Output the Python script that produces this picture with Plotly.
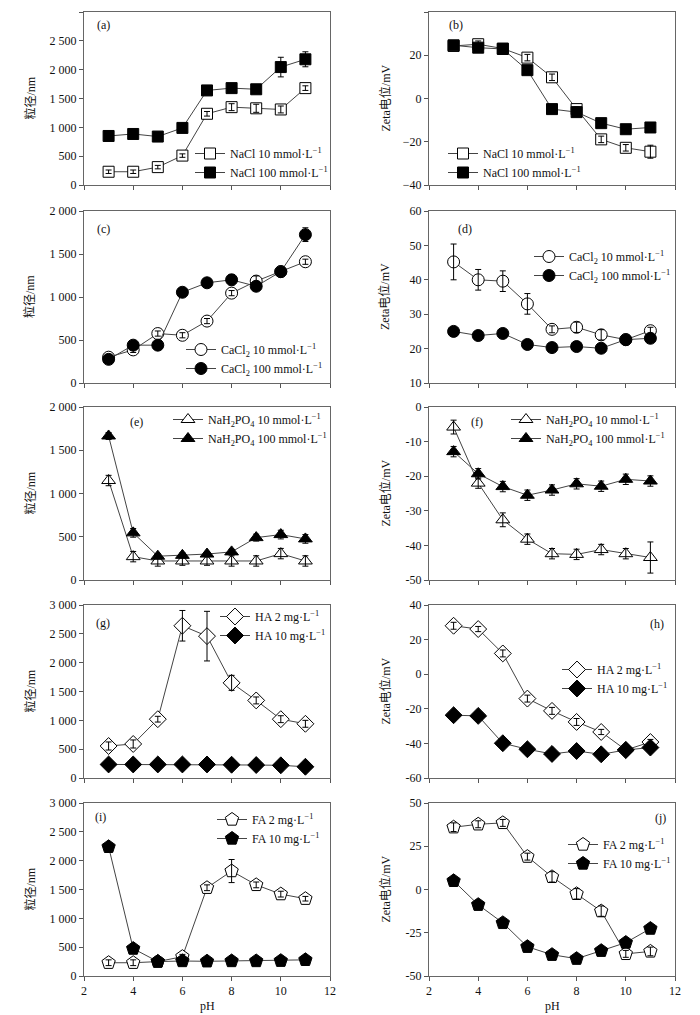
import plotly.graph_objects as go

ph = [3, 4, 5, 6, 7, 8, 9, 10, 11]

# (a) particle size, NaCl
a_lo = [230, 230, 310, 510, 1235, 1350, 1330, 1310, 1680]
a_lo_err = [30, 30, 30, 30, 40, 60, 70, 60, 40]
a_hi = [850, 885, 840, 990, 1640, 1680, 1660, 2045, 2180]
a_hi_err = [30, 30, 30, 40, 60, 40, 40, 170, 130]
# (b) zeta, NaCl
b_lo = [24.3, 25.1, 23.1, 18.9, 9.8, -4.9, -18.9, -22.8, -24.6]
b_lo_err = [1.5, 1.5, 1, 1.5, 1.5, 1, 1.5, 1.5, 3]
b_hi = [24.6, 23.5, 22.9, 13.1, -4.9, -6.3, -11.4, -14.2, -13.4]
b_hi_err = [1, 1, 1, 1, 1, 1, 1, 1, 1]
# (c) particle size, CaCl2
c_lo = [300, 385, 575, 555, 720, 1045, 1185, 1295, 1410]
c_lo_err = [30, 30, 30, 30, 30, 30, 60, 30, 30]
c_hi = [275, 440, 440, 1055, 1165, 1200, 1125, 1295, 1725]
c_hi_err = [20, 30, 30, 30, 40, 60, 40, 30, 80]
# (d) zeta, CaCl2
d_lo = [45.2, 40.0, 39.6, 33.0, 25.6, 26.2, 24.0, 22.6, 25.2]
d_lo_err = [5.2, 3, 3, 3, 1, 1.5, 1.5, 0.5, 1]
d_hi = [25.0, 23.8, 24.4, 21.2, 20.3, 20.6, 20.1, 22.6, 23.0]
d_hi_err = [0.5, 0.5, 0.5, 0.5, 0.5, 0.5, 0.5, 0.5, 0.5]
# (e) particle size, NaH2PO4
e_lo = [1150, 270, 220, 220, 220, 220, 220, 305, 220]
e_lo_err = [60, 60, 60, 50, 50, 60, 60, 60, 60]
e_hi = [1665, 545, 275, 285, 300, 325, 490, 525, 475]
e_hi_err = [40, 50, 30, 30, 30, 30, 40, 50, 50]
# (f) zeta, NaH2PO4
f_lo = [-5.8, -22.0, -32.6, -38.2, -42.4, -42.6, -41.2, -42.4, -43.5]
f_lo_err = [2, 1.5, 2, 1.5, 1.5, 1.5, 1.5, 1.5, 4.5]
f_hi = [-12.9, -19.3, -23.0, -25.5, -24.0, -22.2, -22.9, -20.9, -21.4]
f_hi_err = [1.5, 1.5, 1.5, 1.5, 1.5, 1.5, 1.5, 1.5, 1.5]
# (g) particle size, HA
g_lo = [555, 590, 1020, 2640, 2460, 1650, 1345, 1020, 940]
g_lo_err = [70, 70, 50, 265, 430, 130, 60, 60, 60]
g_hi = [235, 235, 235, 235, 235, 230, 225, 220, 195]
g_hi_err = [15, 15, 15, 15, 15, 15, 15, 15, 15]
# (h) zeta, HA
h_lo = [28.0, 26.1, 12.0, -14.1, -21.2, -27.6, -33.4, -43.8, -39.2]
h_lo_err = [2, 1.5, 2, 2, 2, 2, 1.5, 1.5, 1.5]
h_hi = [-23.7, -24.1, -39.9, -43.4, -46.1, -44.4, -46.3, -43.8, -42.4]
h_hi_err = [1, 1, 1, 1, 1, 1, 1, 1, 1]
# (i) particle size, FA
i_lo = [230, 230, 250, 335, 1530, 1820, 1580, 1420, 1340]
i_lo_err = [50, 50, 30, 40, 50, 200, 50, 50, 40]
i_hi = [2240, 475, 250, 260, 255, 260, 260, 265, 280]
i_hi_err = [20, 20, 20, 20, 20, 20, 20, 20, 20]
# (j) zeta, FA
j_lo = [36.0, 37.7, 38.5, 19.0, 7.3, -2.5, -12.5, -37.2, -35.8]
j_lo_err = [2.5, 2, 2, 2, 3, 3, 3, 2, 2.5]
j_hi = [5.0, -8.8, -19.3, -33.1, -37.7, -40.0, -35.4, -30.7, -22.6]
j_hi_err = [1, 1, 1, 1, 1, 1, 1, 1, 1]

names_lo = ["NaCl 10 mmol·L<sup>−1</sup>", "CaCl<sub>2</sub> 10 mmol·L<sup>−1</sup>",
            "NaH<sub>2</sub>PO<sub>4</sub> 10 mmol·L<sup>−1</sup>", "HA 2 mg·L<sup>−1</sup>",
            "FA 2 mg·L<sup>−1</sup>"]
names_hi = ["NaCl 100 mmol·L<sup>−1</sup>", "CaCl<sub>2</sub> 100 mmol·L<sup>−1</sup>",
            "NaH<sub>2</sub>PO<sub>4</sub> 100 mmol·L<sup>−1</sup>", "HA 10 mg·L<sup>−1</sup>",
            "FA 10 mg·L<sup>−1</sup>"]
panel_labels = ["(a)", "(b)", "(c)", "(d)", "(e)", "(f)", "(g)", "(h)", "(i)", "(j)"]
y_titles = ["粒径/nm", "Zeta电位/mV"]
x_title = "pH"

size_ticks = [0, 500, 1000, 1500, 2000, 2500, 3000]
size_ticktext = ["0", "500", "1 000", "1 500", "2 000", "2 500", "3 000"]
b_ticks = [-40, -20, 0, 20, 40]
b_ticktext = ["−40", "−20", "0", "20", "40"]
d_ticks = [10, 20, 30, 40, 50, 60]
f_ticks = [-50, -40, -30, -20, -10, 0]
f_ticktext = ["-50", "-40", "-30", "-20", "-10", "0"]
h_ticks = [-60, -40, -20, 0, 20, 40]
h_ticktext = ["-60", "-40", "-20", "0", "20", "40"]
j_ticks = [-50, -25, 0, 25, 50]
j_ticktext = ["-50", "-25", "0", "25", "50"]
x_ticks = [2, 4, 6, 8, 10, 12]

lo_series = [a_lo, b_lo, c_lo, d_lo, e_lo, f_lo, g_lo, h_lo, i_lo, j_lo]
lo_errs = [a_lo_err, b_lo_err, c_lo_err, d_lo_err, e_lo_err, f_lo_err, g_lo_err, h_lo_err, i_lo_err, j_lo_err]
hi_series = [a_hi, b_hi, c_hi, d_hi, e_hi, f_hi, g_hi, h_hi, i_hi, j_hi]
hi_errs = [a_hi_err, b_hi_err, c_hi_err, d_hi_err, e_hi_err, f_hi_err, g_hi_err, h_hi_err, i_hi_err, j_hi_err]

yranges = [[0, 3000], [-40, 40], [0, 2000], [10, 60], [0, 2000], [-50, 0],
           [0, 3000], [-60, 40], [0, 3000], [-50, 50]]
ytickv = [size_ticks, b_ticks, size_ticks[:5], d_ticks, size_ticks[:5], f_ticks,
          size_ticks, h_ticks, size_ticks, j_ticks]
ytickt = [size_ticktext, b_ticktext, size_ticktext[:5], [str(v) for v in d_ticks],
          size_ticktext[:5], f_ticktext, size_ticktext, h_ticktext, size_ticktext, j_ticktext]

symbols = ["square", "circle", "triangle-up", "diamond", "pentagon"]
msizes = [11, 12, 12, 13, 14]

FONT = "Liberation Serif, Times New Roman, Noto Sans CJK SC, serif"
FS = 12
OFF = 8  # page body margin
W, H = 700 - OFF, 1015 - OFF
ML, MR, MT, MB = 84 - OFF, 25, 12 - OFF, 39
PW, PH = W - ML - MR, H - MT - MB


def px_x(p):
    return (p - OFF - ML) / PW


def px_y(p):
    return (H - MB - (p - OFF)) / PH


col_px = [(84, 330), (429, 675)]
row_px = [(12, 185), (211, 383), (407, 580), (605, 778), (803, 976)]

# legend: marker x - 20, vertical middle of the two entries
legend_pos = [(190, 163), (443, 163), (181, 359), (529, 266), (168, 429), (506, 429),
              (215, 626), (557, 679), (212, 829), (563, 854)]
label_pos = [(103, 25), (456, 25), (103, 229), (465, 229), (136, 422), (477, 422),
             (103, 623), (657, 624), (100, 817), (660, 818)]
ytitle_x = [30, 385]

fig = go.Figure()
layout = dict(
    width=W, height=H,
    margin=dict(l=ML, r=MR, t=MT, b=MB, autoexpand=False),
    paper_bgcolor="white", plot_bgcolor="white",
    font=dict(family=FONT, size=FS, color="#111"),
    showlegend=True,
)
annotations = []

for k in range(10):
    r, c = k // 2, k % 2
    grp = k // 2
    ax = "" if k == 0 else str(k + 1)
    lg = "legend" if k == 0 else "legend%d" % (k + 1)
    pairs = [(lo_series[k], lo_errs[k], "white", names_lo[grp]),
             (hi_series[k], hi_errs[k], "black", names_hi[grp])]
    for series, errs, fill, nm in pairs:
        fig.add_trace(go.Scatter(
            x=ph, y=series, mode="lines+markers", name=nm,
            xaxis="x" + ax, yaxis="y" + ax, legend=lg,
            line=dict(color="#444", width=1),
            marker=dict(symbol=symbols[grp], size=msizes[grp], color=fill,
                        line=dict(color="black", width=1)),
        ))
    # error bars drawn above markers
    for series, errs, fill, nm in pairs:
        fig.add_trace(go.Scatter(
            x=ph, y=series, mode="markers", showlegend=False, hoverinfo="skip",
            xaxis="x" + ax, yaxis="y" + ax,
            marker=dict(size=1, opacity=0),
            error_y=dict(type="data", array=errs, color="black", thickness=1, width=3),
        ))
    x0, x1 = col_px[c]
    y0, y1 = row_px[r]
    axstyle = dict(showline=True, linecolor="#666", linewidth=1, mirror=True,
                   ticks="outside", ticklen=4, tickcolor="#555", tickwidth=1,
                   showgrid=False, zeroline=False, automargin=False,
                   tickfont=dict(family=FONT, size=FS, color="#111"))
    xa = dict(axstyle, domain=[px_x(x0), px_x(x1)], range=[2, 12], tickvals=x_ticks,
              anchor="y" + ax, showticklabels=(r == 4))
    ya = dict(axstyle, domain=[px_y(y1), px_y(y0)], range=yranges[k], tickvals=ytickv[k],
              ticktext=ytickt[k], anchor="x" + ax)
    layout["xaxis" + ax] = xa
    layout["yaxis" + ax] = ya
    lx, ly = legend_pos[k]
    layout[lg] = dict(x=px_x(lx), y=px_y(ly), xanchor="left", yanchor="middle",
                      bgcolor="rgba(0,0,0,0)", font=dict(family=FONT, size=FS, color="#111"),
                      tracegroupgap=0, itemwidth=30)
    tx, ty = label_pos[k]
    annotations.append(dict(text=panel_labels[k], x=px_x(tx), y=px_y(ty), xref="paper",
                            yref="paper", showarrow=False, xanchor="center", yanchor="middle",
                            font=dict(family=FONT, size=FS, color="#111")))
    annotations.append(dict(text=y_titles[c], x=px_x(ytitle_x[c]), y=px_y((y0 + y1) / 2),
                            xref="paper", yref="paper", showarrow=False, textangle=-90,
                            xanchor="center", yanchor="middle",
                            font=dict(family=FONT, size=FS, color="#111")))
    if r == 4:
        annotations.append(dict(text=x_title, x=px_x((x0 + x1) / 2), y=px_y(1006),
                                xref="paper", yref="paper", showarrow=False,
                                xanchor="center", yanchor="middle",
                                font=dict(family=FONT, size=FS, color="#111")))

layout["annotations"] = annotations
fig.update_layout(**layout)
fig.write_html("out.html")
